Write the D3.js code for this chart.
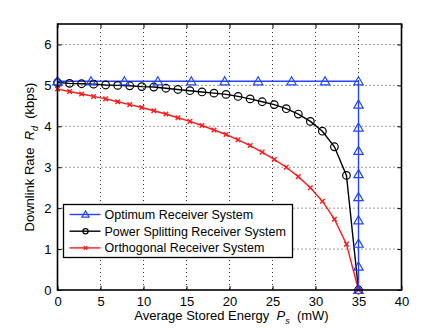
<!DOCTYPE html>
<html>
<head>
<meta charset="utf-8">
<script src="https://d3js.org/d3.v7.min.js"></script>
<style>
  body { margin: 0; background: #fff; }
  svg { font-family: "Liberation Sans", Arial, sans-serif; }
  .grid line { stroke: #000; stroke-dasharray: 1,3; stroke-width: 0.8; }
  .lbl { white-space: pre; }
</style>
</head>
<body>
<script>
// data
var optX = [0, 3.89, 7.78, 11.67, 15.56, 19.44, 23.33, 27.22, 31.11, 35, 35, 35, 35, 35, 35, 35, 35, 35, 35];
var optY = [5.1, 5.1, 5.1, 5.1, 5.1, 5.1, 5.1, 5.1, 5.1, 5.1, 4.53, 3.97, 3.4, 2.83, 2.27, 1.7, 1.13, 0.57, 0];

var psX = [0, 1.4, 2.8, 4.2, 5.6, 7.0, 8.4, 9.8, 11.2, 12.6, 14.0, 15.4, 16.8, 18.2, 19.6, 21.0, 22.4, 23.8, 25.2, 26.6, 28.0, 29.4, 30.8, 32.2, 33.6, 35];
var psY = [5.07, 5.05, 5.04, 5.03, 5.01, 5.0, 4.99, 4.97, 4.96, 4.93, 4.9, 4.87, 4.84, 4.81, 4.78, 4.73, 4.67, 4.6, 4.53, 4.43, 4.3, 4.12, 3.88, 3.5, 2.8, 0];
var orthY = [4.91, 4.85, 4.79, 4.73, 4.67, 4.6, 4.53, 4.46, 4.38, 4.3, 4.21, 4.12, 4.02, 3.91, 3.8, 3.67, 3.53, 3.37, 3.19, 3.0, 2.77, 2.5, 2.17, 1.73, 1.12, 0];

var xTicks = [0, 5, 10, 15, 20, 25, 30, 35, 40];
var yTicks = [0, 1, 2, 3, 4, 5, 6];
var seriesNames = ["Optimum Receiver System", "Power Splitting Receiver System", "Orthogonal Receiver System"];

var W = 443, H = 328;
var margin = {top: 24, right: 41.5, bottom: 38, left: 57.5};
var width = W - margin.left - margin.right,
    height = H - margin.top - margin.bottom;

var svg = d3.select("body").append("svg")
    .attr("width", W).attr("height", H);
var g = svg.append("g")
    .attr("transform", "translate(" + margin.left + "," + margin.top + ")");

var x = d3.scaleLinear().domain([0, 40]).range([0, width]);
var y = d3.scaleLinear().domain([0, 6.5]).range([height, 0]);

// dotted grid
g.append("g").attr("class", "grid")
  .selectAll("line").data(xTicks.slice(1, -1)).enter().append("line")
    .attr("x1", d => x(d)).attr("x2", d => x(d))
    .attr("y1", 0).attr("y2", height);
g.append("g").attr("class", "grid")
  .selectAll("line").data(yTicks.slice(1)).enter().append("line")
    .attr("y1", d => y(d)).attr("y2", d => y(d))
    .attr("x1", 0).attr("x2", width);

// axes, ticks pointing inwards
g.append("g").attr("transform", "translate(0," + height + ")")
    .call(d3.axisBottom(x).tickValues(xTicks).tickFormat(d3.format("d"))
      .tickSizeInner(-4).tickSizeOuter(0).tickPadding(7));
g.append("g")
    .call(d3.axisLeft(y).tickValues(yTicks).tickFormat(d3.format("d"))
      .tickSizeInner(-4).tickSizeOuter(0).tickPadding(6));
g.append("g")
    .call(d3.axisTop(x).tickValues(xTicks).tickSizeInner(-4).tickSizeOuter(0).tickFormat(""));
g.append("g").attr("transform", "translate(" + width + ",0)")
    .call(d3.axisRight(y).tickValues(yTicks).tickSizeInner(-4).tickSizeOuter(0).tickFormat(""));
g.selectAll(".domain").remove();
g.selectAll(".tick line").attr("stroke", "#000");
g.selectAll(".tick text").style("font-size", "13px").attr("fill", "#000");

var line = d3.line().x(d => x(d[0])).y(d => y(d[1]));

var optData = d3.zip(optX, optY);
var psData = d3.zip(psX, psY);
var orthData = d3.zip(psX, orthY);

var blue = "#2244ff", red = "#ff1a1a";

g.append("path").datum(orthData).attr("d", line)
  .attr("fill", "none").attr("stroke", red).attr("stroke-width", 1.4);
g.append("path").datum(psData).attr("d", line)
  .attr("fill", "none").attr("stroke", "#000").attr("stroke-width", 1.4);
g.append("path").datum(optData).attr("d", line)
  .attr("fill", "none").attr("stroke", blue).attr("stroke-width", 1.4);

var tri = d3.symbol().type(d3.symbolTriangle).size(38);
var crossPath = function(s) {
  return "M" + (-s) + "," + (-s) + "L" + s + "," + s + "M" + (-s) + "," + s + "L" + s + "," + (-s);
};

g.selectAll(".ps").data(psData).enter().append("circle")
  .attr("cx", d => x(d[0])).attr("cy", d => y(d[1])).attr("r", 3.8)
  .attr("fill", "none").attr("stroke", "#000").attr("stroke-width", 1.2);
g.selectAll(".orth").data(orthData).enter().append("path")
  .attr("transform", d => "translate(" + x(d[0]) + "," + y(d[1]) + ")")
  .attr("d", crossPath(2.3))
  .attr("stroke", red).attr("stroke-width", 1.4);
g.selectAll(".opt").data(optData).enter().append("path")
  .attr("transform", d => "translate(" + x(d[0]) + "," + (y(d[1]) + 0.8) + ")")
  .attr("d", tri)
  .attr("fill", "none").attr("stroke", blue).attr("stroke-width", 1.2);

// frame
g.append("rect").attr("width", width).attr("height", height)
  .attr("fill", "none").attr("stroke", "#000").attr("stroke-width", 1.6);

// axis labels
var xl = svg.append("text").attr("class", "lbl")
  .attr("x", margin.left + width / 2 + 2).attr("y", 320)
  .attr("text-anchor", "middle").style("font-size", "13px");
xl.append("tspan").text("Average Stored Energy  ");
xl.append("tspan").style("font-style", "italic").text("P");
xl.append("tspan").style("font-style", "italic").style("font-size", "9px").attr("dy", 4).text("s");
xl.append("tspan").attr("dy", -4).text("  (mW)");

var yl = svg.append("text").attr("class", "lbl")
  .attr("transform", "translate(34," + (margin.top + 133) + ") rotate(-90)")
  .attr("text-anchor", "middle").style("font-size", "13px");
yl.append("tspan").text("Downlink Rate  ");
yl.append("tspan").style("font-style", "italic").text("R");
yl.append("tspan").style("font-style", "italic").style("font-size", "9px").attr("dy", 4).text("d");
yl.append("tspan").attr("dy", -4).text("  (kbps)");

// legend
var lg = svg.append("g").attr("transform", "translate(63.5,204.5)");
lg.append("rect").attr("width", 229).attr("height", 53)
  .attr("fill", "#fff").attr("stroke", "#000").attr("stroke-width", 1.3);
var colors = [blue, "#000", red];
seriesNames.forEach(function(name, i) {
  var yy = 10 + i * 16.7;
  lg.append("line").attr("x1", 6).attr("x2", 37).attr("y1", yy).attr("y2", yy)
    .attr("stroke", colors[i]).attr("stroke-width", 1.4);
  if (i === 0) {
    lg.append("path").attr("transform", "translate(22," + (yy + 0.5) + ")")
      .attr("d", d3.symbol().type(d3.symbolTriangle).size(22))
      .attr("fill", "none").attr("stroke", blue).attr("stroke-width", 1.2);
  } else if (i === 1) {
    lg.append("circle").attr("cx", 22).attr("cy", yy).attr("r", 2.6)
      .attr("fill", "none").attr("stroke", "#000").attr("stroke-width", 1.2);
  } else {
    lg.append("path").attr("transform", "translate(22," + yy + ")")
      .attr("d", crossPath(1.8)).attr("stroke", red).attr("stroke-width", 1.3);
  }
  lg.append("text").attr("x", 41).attr("y", yy + 4.5)
    .style("font-size", "12.5px").text(name);
});
</script>
</body>
</html>
